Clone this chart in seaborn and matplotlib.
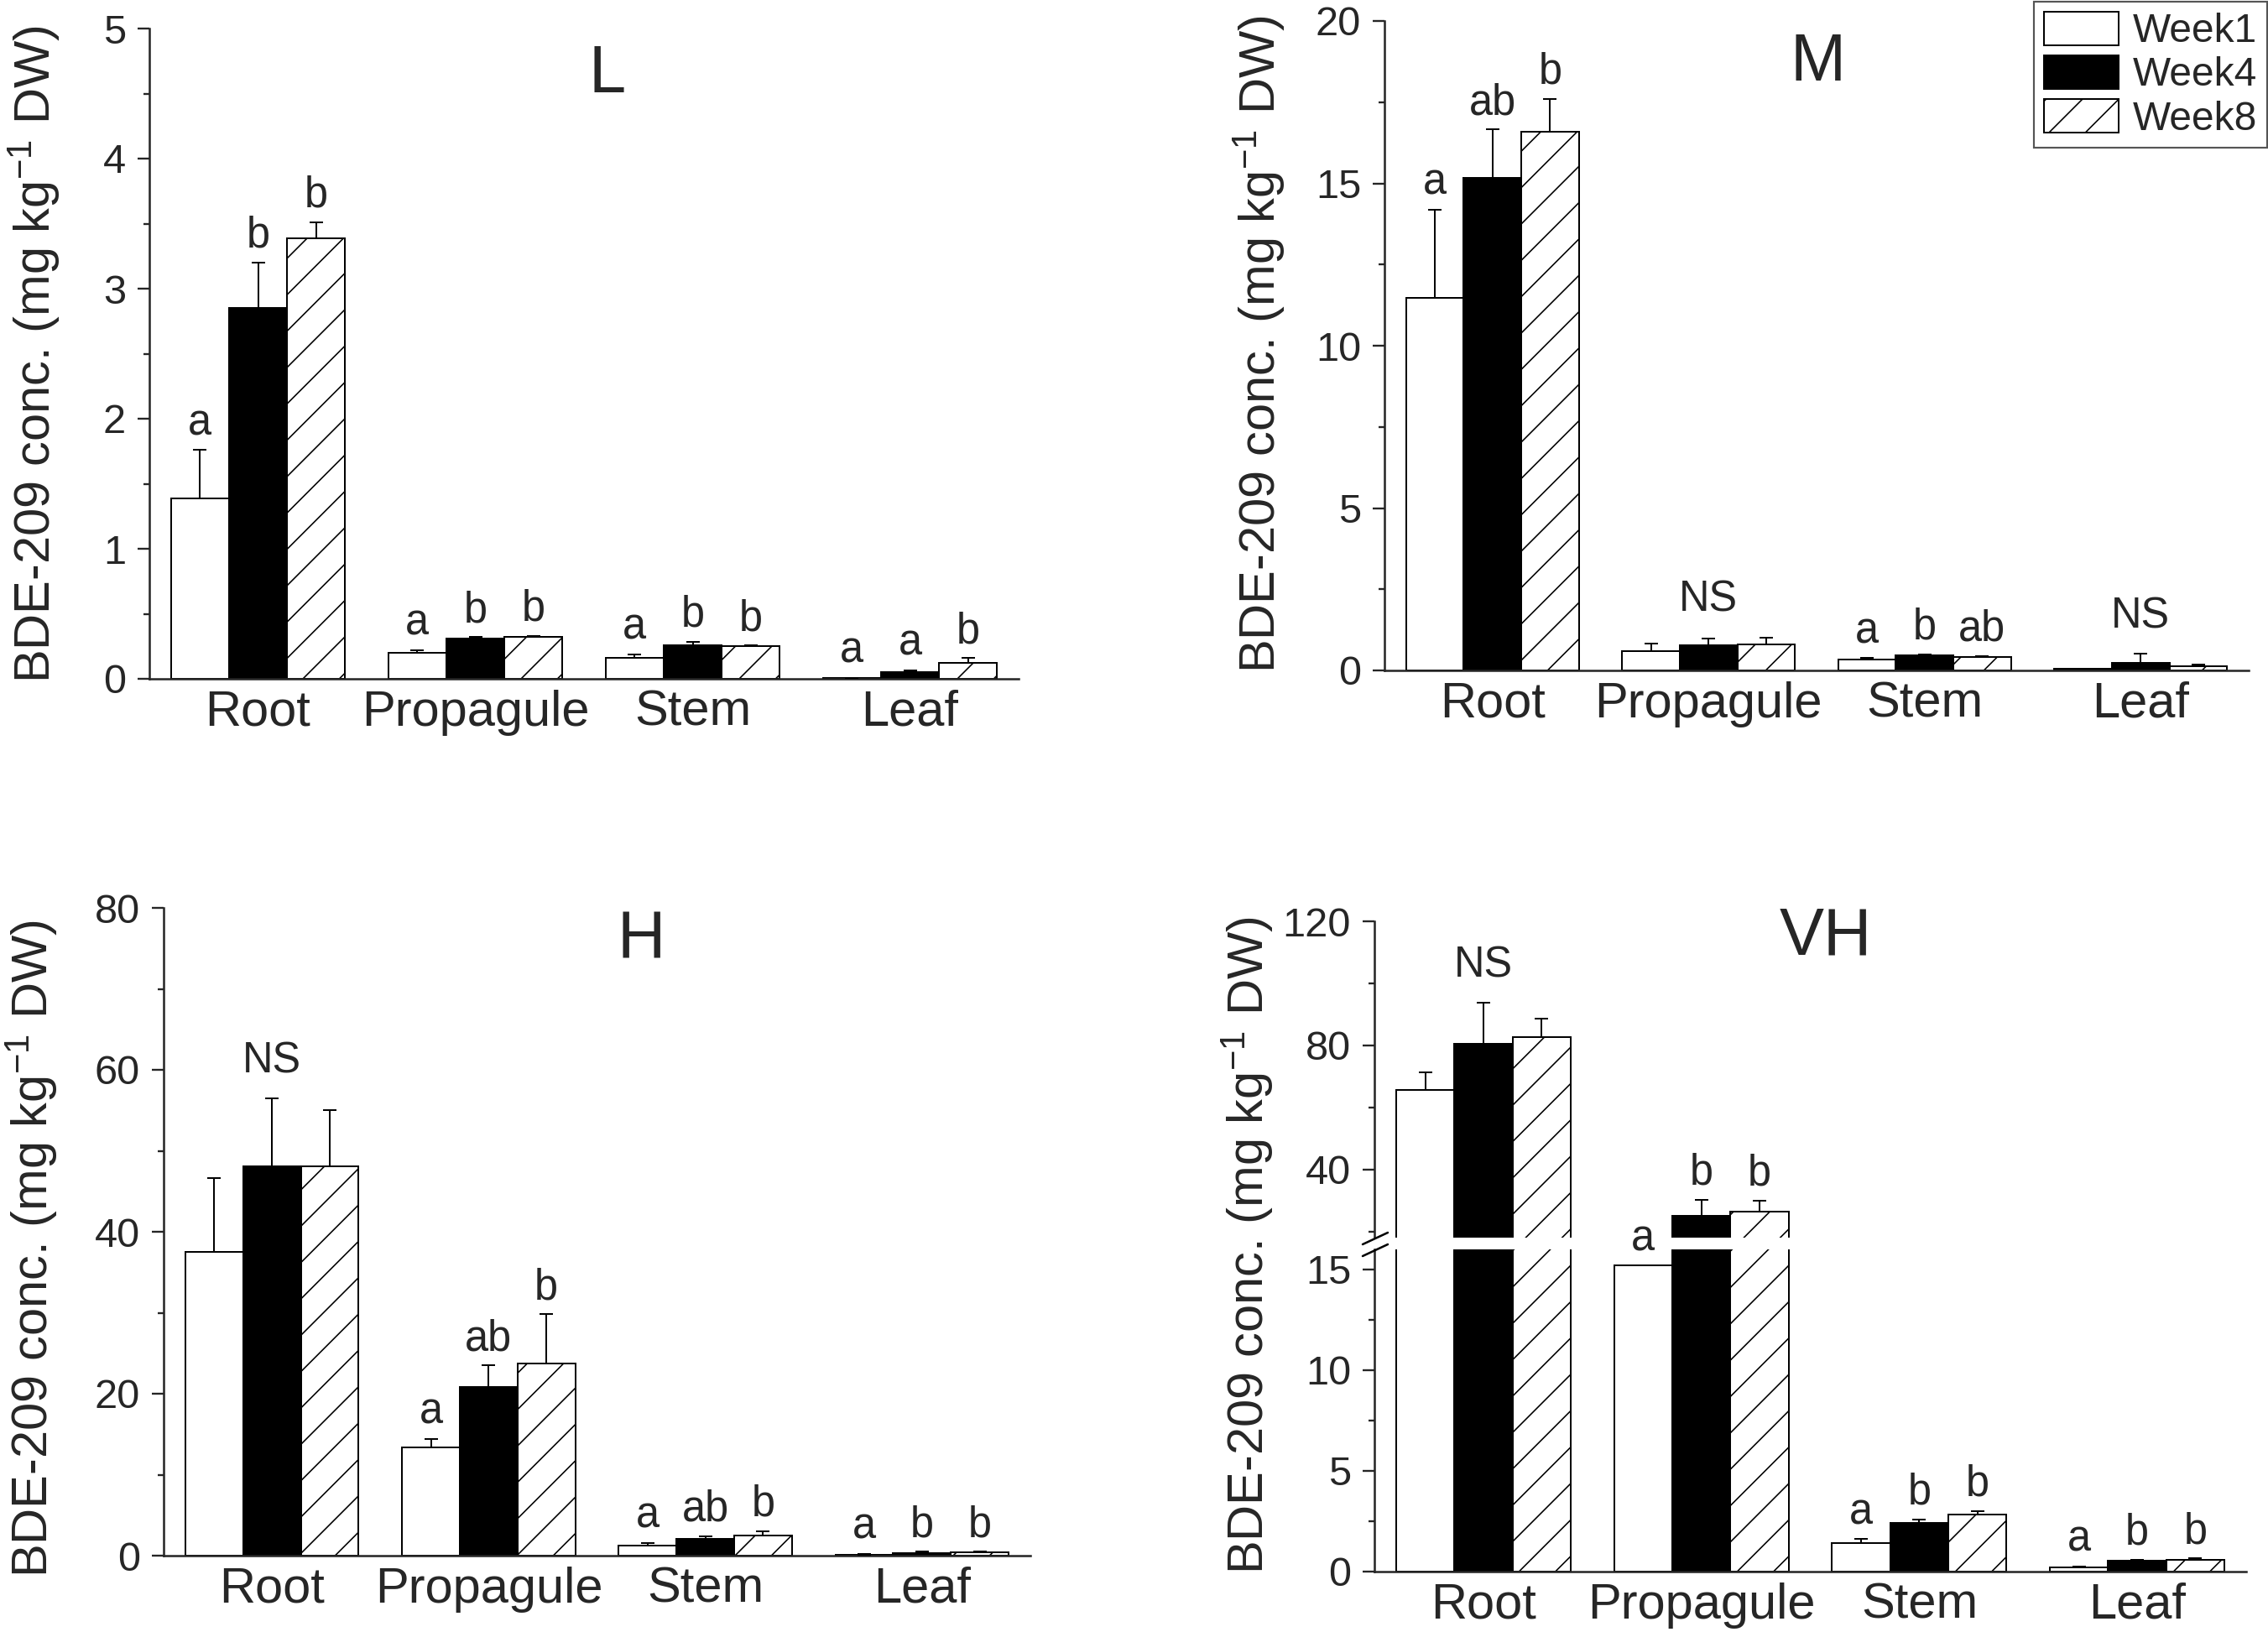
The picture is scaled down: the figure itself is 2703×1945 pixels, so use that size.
import numpy as np
import pandas as pd
import seaborn as sns
import matplotlib.pyplot as plt
from matplotlib.patches import Patch
from matplotlib.lines import Line2D
from matplotlib.ticker import MultipleLocator

tissues = ['Root', 'Propagule', 'Stem', 'Leaf']
weeks = ['Week1', 'Week4', 'Week8']

# L
L_w1 = [1.39, 0.20, 0.16, 0.005]
L_w4 = [2.85, 0.31, 0.26, 0.05]
L_w8 = [3.39, 0.32, 0.25, 0.12]
L_e1 = [0.37, 0.02, 0.03, 0.004]
L_e4 = [0.35, 0.01, 0.025, 0.015]
L_e8 = [0.12, 0.01, 0.005, 0.04]
L_letters = [['a', 'b', 'b'], ['a', 'b', 'b'], ['a', 'b', 'b'], ['a', 'a', 'b']]
L_ticks = [0, 1, 2, 3, 4, 5]

# M
M_w1 = [11.48, 0.59, 0.34, 0.04]
M_w4 = [15.16, 0.77, 0.46, 0.24]
M_w8 = [16.6, 0.81, 0.41, 0.14]
M_e1 = [2.71, 0.23, 0.04, 0.02]
M_e4 = [1.5, 0.2, 0.03, 0.27]
M_e8 = [1.0, 0.21, 0.04, 0.03]
M_letters = [['a', 'ab', 'b'], 'NS', ['a', 'b', 'ab'], 'NS']
M_ticks = [0, 5, 10, 15, 20]

# H
H_w1 = [37.5, 13.4, 1.27, 0.12]
H_w4 = [48.1, 20.8, 2.06, 0.36]
H_w8 = [48.1, 23.7, 2.48, 0.42]
H_e1 = [9.1, 1.0, 0.3, 0.12]
H_e4 = [8.4, 2.7, 0.36, 0.12]
H_e8 = [6.9, 6.1, 0.52, 0.06]
H_letters = ['NS', ['a', 'ab', 'b'], ['a', 'ab', 'b'], ['a', 'b', 'b']]
H_ticks = [0, 20, 40, 60, 80]

# VH
VH_w1 = [65.5, 15.2, 1.40, 0.22]
VH_w4 = [80.6, 25.1, 2.41, 0.53]
VH_w8 = [82.6, 26.5, 2.84, 0.60]
VH_e1 = [5.7, 0.0, 0.21, 0.04]
VH_e4 = [13.1, 5.1, 0.19, 0.07]
VH_e8 = [6.0, 3.5, 0.16, 0.05]
VH_letters = ['NS', ['a', 'b', 'b'], ['a', 'b', 'b'], ['a', 'b', 'b']]
VH_ticks_hi = [40, 80, 120]
VH_ticks_lo = [0, 5, 10, 15]

sns.set_style('ticks')
plt.rcParams['font.family'] = ['Liberation Sans', 'DejaVu Sans']
plt.rcParams['mathtext.default'] = 'regular'
plt.rcParams['hatch.linewidth'] = 0.9

W, H = 2703, 1945
DPI = 130
fig = plt.figure(figsize=(W / DPI, H / DPI))


def px_axes(left, right, top, bottom):
    return fig.add_axes([left / W, 1 - bottom / H, (right - left) / W, (bottom - top) / H])


def make_df(means):
    rows = []
    for wk, vals in zip(weeks, means):
        for t, v in zip(tissues, vals):
            rows.append({'tissue': t, 'week': wk, 'value': v})
    return pd.DataFrame(rows)


def style_axes(ax, ticks, minor, ylim):
    ax.set_yticks(ticks, [str(t) for t in ticks], fontsize=27)
    ax.yaxis.set_minor_locator(MultipleLocator(minor))
    ax.set_ylim(*ylim)
    ax.set_xlim(-0.5, 3.5)
    ax.set_xlabel('')
    ax.set_ylabel('')
    for s in ['top', 'right']:
        ax.spines[s].set_visible(False)
    for s in ['left', 'bottom']:
        ax.spines[s].set_linewidth(1.4)
    ax.tick_params(axis='y', which='major', direction='out', length=7.5, width=1.3, pad=8)
    ax.tick_params(axis='y', which='minor', direction='out', length=4, width=1.3)
    ax.tick_params(axis='x', length=0, labelsize=33, pad=7)


def draw_bars(ax, means, errs):
    df = make_df(means)
    sns.barplot(data=df, x='tissue', y='value', hue='week', order=tissues,
                hue_order=weeks, palette=['white', 'black', 'white'], saturation=1,
                edgecolor='black', linewidth=1.1, errorbar=None, legend=False, ax=ax)
    pos = []
    for i, (cont, err) in enumerate(zip(ax.containers, errs)):
        xs = np.array([p.get_x() + p.get_width() / 2 for p in cont])
        ys = np.array([p.get_height() for p in cont])
        if i == 2:
            for p in cont:
                p.set_hatch('/')
        ax.errorbar(xs, ys, yerr=[np.zeros(len(err)), err], fmt='none', ecolor='black',
                    elinewidth=1.1, capsize=4.5, capthick=1.1, zorder=3)
        pos.append((xs, ys + np.array(err)))
    return pos


def add_letters(pos, letters, pick_ax):
    for g, lab in enumerate(letters):
        if lab == 'NS':
            x = np.mean([pos[k][0][g] for k in range(3)])
            top = max(pos[k][1][g] for k in range(3))
            pick_ax(top).annotate('NS', (x, top), xytext=(0, 17), textcoords='offset points',
                                  ha='center', va='baseline', fontsize=28,
                                  annotation_clip=False)
        else:
            for k in range(3):
                x, top = pos[k][0][g], pos[k][1][g]
                pick_ax(top).annotate(lab[k], (x, top), xytext=(0, 10),
                                      textcoords='offset points', ha='center',
                                      va='baseline', fontsize=28, annotation_clip=False)


ylab = 'BDE-209 conc. (mg kg$^{-1}$ DW)'

# panel L
axL = px_axes(178, 1214, 34, 809)
pL = draw_bars(axL, [L_w1, L_w4, L_w8], [L_e1, L_e4, L_e8])
style_axes(axL, L_ticks, 0.5, (0, 5))
add_letters(pL, L_letters, lambda t: axL)

# panel M
axM = px_axes(1650, 2680, 25, 799)
pM = draw_bars(axM, [M_w1, M_w4, M_w8], [M_e1, M_e4, M_e8])
style_axes(axM, M_ticks, 2.5, (0, 20))
add_letters(pM, M_letters, lambda t: axM)

# panel H
axH = px_axes(195, 1228, 1082, 1854)
pH = draw_bars(axH, [H_w1, H_w4, H_w8], [H_e1, H_e4, H_e8])
style_axes(axH, H_ticks, 10, (0, 80))
add_letters(pH, H_letters, lambda t: axH)

# panel VH, broken y axis
axV_hi = px_axes(1638, 2677, 1098, 1475)
axV_lo = px_axes(1638, 2677, 1489, 1873)
draw_bars(axV_hi, [VH_w1, VH_w4, VH_w8], [VH_e1, VH_e4, VH_e8])
pV = draw_bars(axV_lo, [VH_w1, VH_w4, VH_w8], [VH_e1, VH_e4, VH_e8])
style_axes(axV_hi, VH_ticks_hi, 20, (18, 120))
style_axes(axV_lo, VH_ticks_lo, 2.5, (0, 16))
axV_hi.patch.set_visible(False)
axV_lo.patch.set_visible(False)
axV_hi.spines['bottom'].set_visible(False)
axV_hi.tick_params(axis='x', labelbottom=False)
add_letters(pV, VH_letters, lambda t: axV_hi if t >= 18 else axV_lo)

# break marks on the left spine
for yc in (1476, 1490):
    fig.add_artist(Line2D([1624 / W, 1654 / W], [1 - (yc + 7) / H, 1 - (yc - 7) / H],
                          color='black', lw=1.4))

# panel titles
for txt, x, y in [('L', 724, 90), ('M', 2167, 76), ('H', 764, 1121), ('VH', 2176, 1117)]:
    fig.text(x / W, 1 - y / H, txt, fontsize=44, ha='center', va='center')

# y labels
for x, y in [(41, 422), (1500, 410), (38, 1488), (1486, 1484)]:
    fig.text(x / W, 1 - y / H, ylab, fontsize=33, rotation=90, ha='center', va='center')

handles = [Patch(facecolor='white', edgecolor='black', linewidth=1.1),
           Patch(facecolor='black', edgecolor='black', linewidth=1.1),
           Patch(facecolor='white', edgecolor='black', linewidth=1.1, hatch='/')]
leg = fig.legend(handles=handles, labels=weeks, loc='upper right',
                 bbox_to_anchor=(2702 / W, 1 - 2 / H), frameon=True, fontsize=26.5,
                 fancybox=False, edgecolor='#555555', framealpha=1,
                 handlelength=1.85, handleheight=0.9, handletextpad=0.35,
                 labelspacing=0.12, borderpad=0.25, borderaxespad=0)
leg.get_frame().set_linewidth(1.2)

fig.savefig('out.png', dpi=DPI)
